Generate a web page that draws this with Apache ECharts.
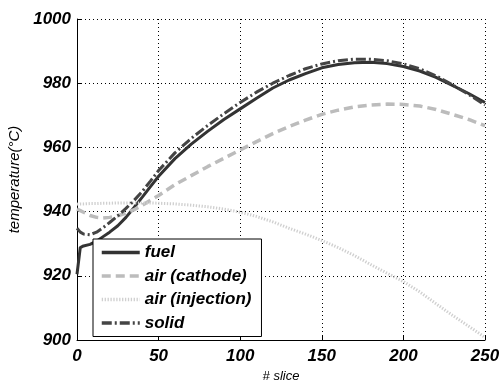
<!DOCTYPE html>
<html>
<head>
<meta charset="utf-8">
<script src="https://cdn.jsdelivr.net/npm/echarts@6/dist/echarts.min.js"></script>
<style>
html,body{margin:0;padding:0;background:#fff;}
#chart{width:502px;height:381px;}
</style>
</head>
<body>
<div id="chart"></div>
<script>
var slices = [0,2,4,8,12,16,20,25,30,35,40,45,50,60,70,80,90,100,110,120,130,140,150,160,170,180,190,200,210,220,230,240,250];
var fuel = [920.5,928.8,929.3,929.8,930.8,932.2,933.6,935.6,938.2,941.3,944.5,947.8,951,956.5,961,965,968.7,972,975.3,978.5,981,983,984.8,985.8,986.4,986.5,986.1,985.2,983.8,981.8,979.3,976.8,974];
var airCathode = [940.8,940.3,939.8,938.8,938.2,938,938.2,938.7,939.5,940.6,942,943.5,945,948.4,951.2,954,956.6,959.2,961.8,964.3,966.5,968.5,970.3,971.6,972.6,973.2,973.5,973.4,972.9,971.8,970.3,968.7,966.8];
var airInjection = [942.3,942.4,942.4,942.5,942.5,942.6,942.6,942.7,942.7,942.7,942.7,942.7,942.6,942.4,942,941.5,940.8,939.8,938.5,936.8,934.8,933,931,928.8,926.3,923.5,920.8,918.2,915,911.3,907.7,904.3,900.8];
var solid = [934.8,933.6,933,932.8,933.6,935,936.6,938.7,941,943.5,946.3,949.5,952.8,958.3,962.8,966.8,970.5,974,977.2,980,982.4,984.5,986,987,987.5,987.5,987,986,984.5,982.3,979.5,976.5,973.2];
var seriesNames = ['fuel','air (cathode)','air (injection)','solid'];

function pairs(ys){ return slices.map(function(s,i){ return [s, ys[i]]; }); }

var FONT = '"Liberation Sans", Arial, sans-serif';
var chart = echarts.init(document.getElementById('chart'), null, {renderer:'canvas'});
var gridLine = {show:true, lineStyle:{color:'#000', type:[1,3], width:1}};
chart.setOption({
  animation:false,
  backgroundColor:'#fff',
  grid:{left:77, right:17, top:19, bottom:41, containLabel:false, outerBoundsMode:'none'},
  xAxis:{
    type:'value', min:0, max:250, interval:50,
    name:'# slice', nameLocation:'middle', nameGap:27,
    nameTextStyle:{fontFamily:FONT, fontStyle:'italic', fontSize:13, color:'#000'},
    axisLine:{show:true, onZero:false, lineStyle:{color:'#000', width:1}},
    axisTick:{show:true, inside:true, length:4, lineStyle:{color:'#000'}},
    axisLabel:{fontFamily:FONT, fontStyle:'italic', fontWeight:'bold', fontSize:17, color:'#000', margin:8},
    splitLine:gridLine
  },
  yAxis:{
    type:'value', min:900, max:1000, interval:20,
    name:'temperature(°C)', nameLocation:'middle', nameGap:52,
    nameTextStyle:{fontFamily:FONT, fontStyle:'italic', fontSize:15, color:'#000'},
    axisLine:{show:true, onZero:false, lineStyle:{color:'#000', width:1}},
    axisTick:{show:true, inside:true, length:4, lineStyle:{color:'#000'}},
    axisLabel:{fontFamily:FONT, fontStyle:'italic', fontWeight:'bold', fontSize:17, color:'#000', margin:6,
      formatter:function(v){ return String(v); }},
    splitLine:gridLine
  },
  legend:{
    orient:'vertical', left:93, top:239,
    backgroundColor:'#fff', borderColor:'#000', borderWidth:1,
    padding:[5,10,5,7], itemWidth:38, itemHeight:14, itemGap:6.5,
    itemStyle:{color:'rgba(0,0,0,0)', borderColor:'rgba(0,0,0,0)', borderWidth:0, opacity:0},
    lineStyle:{width:3.5},
    textStyle:{fontFamily:FONT, fontStyle:'italic', fontWeight:'bold', fontSize:17, color:'#000'},
    data:seriesNames, z:10
  },
  series:[
    {name:seriesNames[0], type:'line', data:pairs(fuel), symbol:'none', smooth:false,
     lineStyle:{color:'#333', width:3}, itemStyle:{color:'#333'}, z:2},
    {name:seriesNames[1], type:'line', data:pairs(airCathode), symbol:'none',
     lineStyle:{color:'#bcbcbc', width:3.5, type:[9,5]}, itemStyle:{color:'#bcbcbc'}, z:3},
    {name:seriesNames[2], type:'line', data:pairs(airInjection), symbol:'none',
     lineStyle:{color:'#cfcfcf', width:3, type:[1.3,1.6]}, itemStyle:{color:'#cfcfcf'}, z:4},
    {name:seriesNames[3], type:'line', data:pairs(solid), symbol:'none',
     lineStyle:{color:'#444', width:3, type:[10,3,2,3]}, itemStyle:{color:'#444'}, z:5}
  ]
});
</script>
</body>
</html>
